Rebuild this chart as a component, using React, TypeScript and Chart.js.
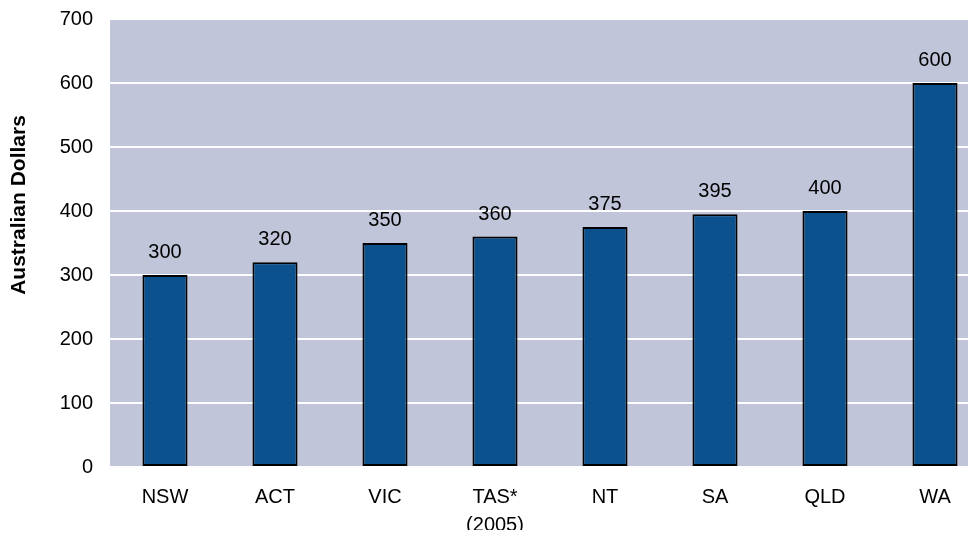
import React, { useEffect, useRef } from "react";
import { Chart, registerables } from "chart.js";

Chart.register(...registerables);

const categories: (string | string[])[] = ["NSW", "ACT", "VIC", ["TAS*", "(2005)"], "NT", "SA", "QLD", "WA"];
const values: number[] = [300, 320, 350, 360, 375, 395, 400, 600];
const yTitle = "Australian Dollars";

const FONT = "'Liberation Sans', Arial, sans-serif";
const PLOT_BG = "#c0c5da";
const BAR_FILL = "#0b518d";

const bgPlugin = {
  id: "plotBg",
  beforeDraw(chart: any) {
    const { ctx, chartArea } = chart;
    ctx.save();
    ctx.fillStyle = PLOT_BG;
    ctx.fillRect(chartArea.left, chartArea.top, chartArea.right - chartArea.left, chartArea.bottom - chartArea.top);
    ctx.restore();
  },
};

const labelPlugin = {
  id: "valueLabels",
  afterDatasetsDraw(chart: any) {
    const { ctx } = chart;
    const meta = chart.getDatasetMeta(0);
    ctx.save();
    ctx.font = `20px ${FONT}`;
    ctx.fillStyle = "#000";
    ctx.textAlign = "center";
    ctx.textBaseline = "alphabetic";
    meta.data.forEach((bar: any, i: number) => {
      ctx.fillText(String(values[i]), bar.x, bar.y - 17);
    });
    ctx.restore();
  },
};

const titlePlugin = {
  id: "yTitle",
  afterDraw(chart: any) {
    const { ctx } = chart;
    ctx.save();
    ctx.font = `bold 21px ${FONT}`;
    ctx.fillStyle = "#000";
    ctx.textAlign = "center";
    ctx.textBaseline = "middle";
    ctx.translate(11, 197);
    ctx.rotate(-Math.PI / 2);
    ctx.fillText(yTitle, 0, 0);
    ctx.restore();
  },
};

export default function App() {
  const ref = useRef<HTMLCanvasElement | null>(null);
  useEffect(() => {
    if (!ref.current) return;
    const chart = new Chart(ref.current, {
      type: "bar",
      data: {
        labels: categories as any,
        datasets: [
          {
            data: values,
            backgroundColor: BAR_FILL,
            borderColor: "#000",
            borderWidth: 2,
            borderSkipped: false,
            barPercentage: 0.41,
            categoryPercentage: 1,
          },
        ],
      },
      options: {
        animation: false,
        responsive: false,
        devicePixelRatio: 1,
        layout: { autoPadding: false, padding: { left: 0, top: 11, right: 18, bottom: 0 } },
        plugins: { legend: { display: false }, tooltip: { enabled: false } },
        scales: {
          x: {
            grid: { display: false, drawTicks: false },
            border: { display: false },
            ticks: {
              color: "#000",
              padding: 16.5,
              maxRotation: 0,
              autoSkip: false,
              font: { family: FONT, size: 20, lineHeight: 1.4 },
            },
            afterFit(scale: any) {
              scale.height = 63;
              scale.paddingLeft = 0;
              scale.paddingRight = 0;
            },
          },
          y: {
            min: 0,
            max: 700,
            grid: { color: "#ffffff", lineWidth: 2, drawTicks: false },
            border: { display: false },
            ticks: {
              stepSize: 100,
              color: "#000",
              padding: 17,
              font: { family: FONT, size: 20 },
            },
            afterFit(scale: any) {
              scale.width = 102;
              scale.paddingTop = 0;
              scale.paddingBottom = 0;
            },
          },
        },
      },
      plugins: [bgPlugin, labelPlugin, titlePlugin],
    });
    return () => chart.destroy();
  }, []);

  return (
    <div style={{ width: 968, height: 522, overflow: "hidden" }}>
      <canvas ref={ref} width={1000} height={522} style={{ display: "block", width: 1000, height: 522 }} />
    </div>
  );
}
